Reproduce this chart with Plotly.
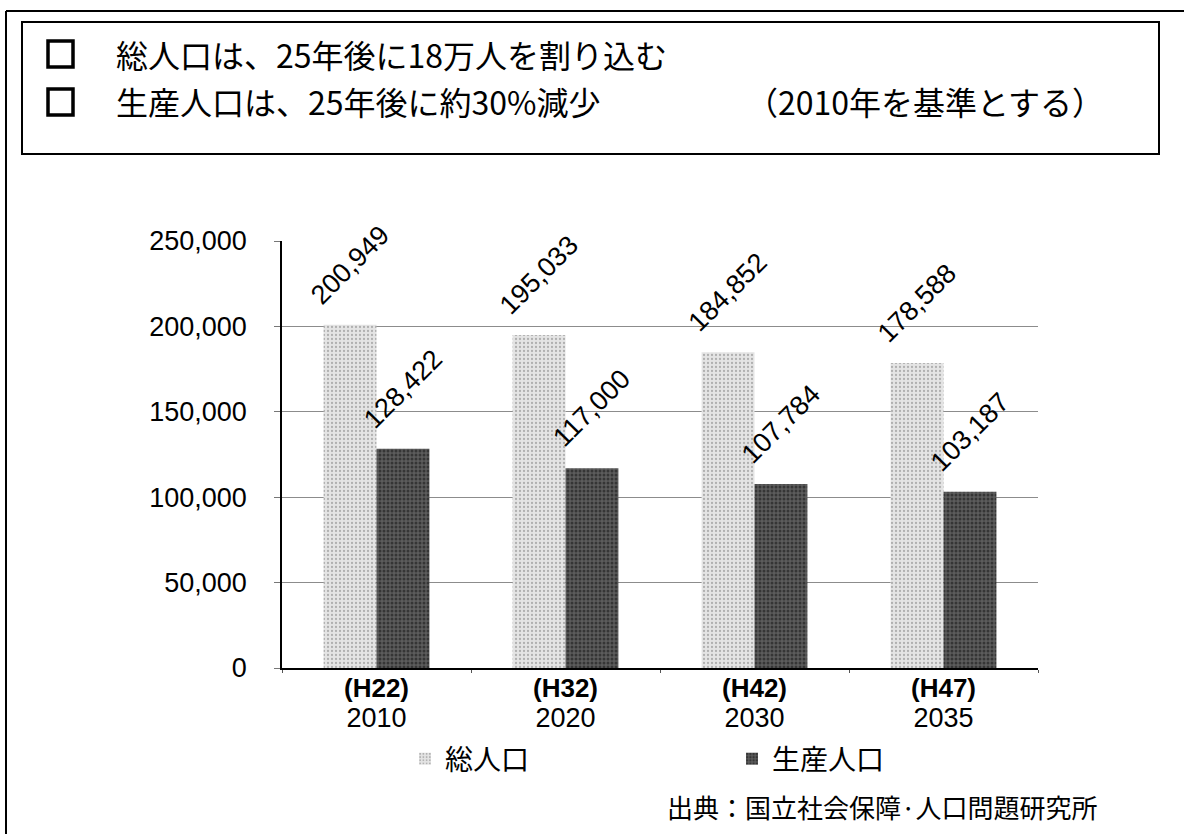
import plotly.graph_objects as go

# ---- data ----
eras = ["H22", "H32", "H42", "H47"]
years = ["2010", "2020", "2030", "2035"]
total_pop = [200949, 195033, 184852, 178588]
working_pop = [128422, 117000, 107784, 103187]
y_ticks = [0, 50000, 100000, 150000, 200000, 250000]

headline_1 = "総人口は、25年後に18万人を割り込む"
headline_2 = "生産人口は、25年後に約30%減少"
headline_note = "（2010年を基準とする）"
source_note = "出典：国立社会保障·人口問題研究所"

categories = [f"<span style='font-size:26px'><b>({e})</b></span><br>"
              f"<span style='font-size:27px'>{y}</span>"
              for e, y in zip(eras, years)]

# ---- layout geometry (pixels) ----
W, H = 1184, 834
L, R, T, B = 282, 146, 241, 166
PW, PH = W - L - R, H - T - B


def px_x(p):
    return (p - L) / PW


def px_y(p):
    return (H - B - p) / PH


LATIN = "Liberation Sans, Arial, sans-serif"
JP = "Noto Sans CJK JP, sans-serif"
BARGAP = 0.44

fig = go.Figure()
fig.add_trace(go.Bar(
    x=categories, y=total_pop, name="総人口",
    marker=dict(color="#e2e2e2", line=dict(width=0),
                pattern=dict(shape=".", fgcolor="#7a7a7a", bgcolor="#e4e4e4",
                             size=4, solidity=0.25)),
))
fig.add_trace(go.Bar(
    x=categories, y=working_pop, name="生産人口",
    marker=dict(color="#3c3c3c", line=dict(width=0),
                pattern=dict(shape=".", fgcolor="#0e0e0e", bgcolor="#5c5c5c",
                             size=4, solidity=0.45)),
))

# rotated value labels above each bar
half = (1 - BARGAP) / 4
annotations = []
for i in range(len(categories)):
    for val, off in ((total_pop[i], -half), (working_pop[i], half)):
        annotations.append(dict(
            x=i + off, y=val, xref="x", yref="y", text=f"{val:,}",
            showarrow=False, textangle=-45, yshift=60,
            font=dict(family=LATIN, size=27, color="black"),
        ))

# header lines
annotations += [
    dict(x=px_x(114), y=px_y(54), xref="paper", yref="paper", text=headline_1,
         showarrow=False, xanchor="left", yanchor="middle",
         font=dict(family=JP, size=32, color="black")),
    dict(x=px_x(114), y=px_y(101), xref="paper", yref="paper", text=headline_2,
         showarrow=False, xanchor="left", yanchor="middle",
         font=dict(family=JP, size=32, color="black")),
    dict(x=px_x(1106), y=px_y(101), xref="paper", yref="paper", text=headline_note,
         showarrow=False, xanchor="right", yanchor="middle",
         font=dict(family=JP, size=32, color="black")),
    dict(x=px_x(1100), y=px_y(806), xref="paper", yref="paper", text=source_note,
         showarrow=False, xanchor="right", yanchor="middle",
         font=dict(family=JP, size=26, color="black")),
]

shapes = [
    # outer page frame (top and left rules)
    dict(type="line", xref="paper", yref="paper", x0=px_x(6), x1=px_x(1184),
         y0=px_y(11), y1=px_y(11), line=dict(color="black", width=2)),
    dict(type="line", xref="paper", yref="paper", x0=px_x(6), x1=px_x(6),
         y0=px_y(11), y1=px_y(834), line=dict(color="black", width=2)),
    # header box
    dict(type="rect", xref="paper", yref="paper", x0=px_x(22), x1=px_x(1159),
         y0=px_y(22), y1=px_y(154), line=dict(color="black", width=2)),
    # bullet squares
    dict(type="rect", xref="paper", yref="paper", x0=px_x(48), x1=px_x(73),
         y0=px_y(41), y1=px_y(67), line=dict(color="black", width=3.5)),
    dict(type="rect", xref="paper", yref="paper", x0=px_x(48), x1=px_x(73),
         y0=px_y(89), y1=px_y(115), line=dict(color="black", width=3.5)),
]

fig.update_layout(
    width=W, height=H,
    margin=dict(l=L, r=R, t=T, b=B, pad=0),
    paper_bgcolor="white", plot_bgcolor="white",
    barmode="group", bargap=BARGAP, bargroupgap=0,
    annotations=annotations, shapes=shapes,
    showlegend=True,
    legend=dict(orientation="h", x=px_x(405), y=px_y(759), xanchor="left",
                yanchor="middle", entrywidth=282, entrywidthmode="pixels",
                font=dict(family=JP, size=28, color="black"),
                bgcolor="rgba(0,0,0,0)", itemwidth=30),
)
fig.update_xaxes(
    type="category", showline=True, linecolor="black", linewidth=1.5,
    ticks="outside", tickson="boundaries", ticklen=3, tickcolor="#555",
    showgrid=False, tickfont=dict(family=LATIN, size=23, color="black"),
    mirror=False,
)
fig.update_yaxes(
    range=[0, 250000], tickvals=y_ticks, tickformat=",",
    showline=True, linecolor="black", linewidth=1.5,
    ticks="outside", ticklen=6, tickcolor="#777",
    showgrid=True, gridcolor="#8c8c8c", gridwidth=1, zeroline=False,
    tickfont=dict(family=LATIN, size=27, color="black"),
    ticklabelstandoff=22,
)

fig.write_html("out.html")
